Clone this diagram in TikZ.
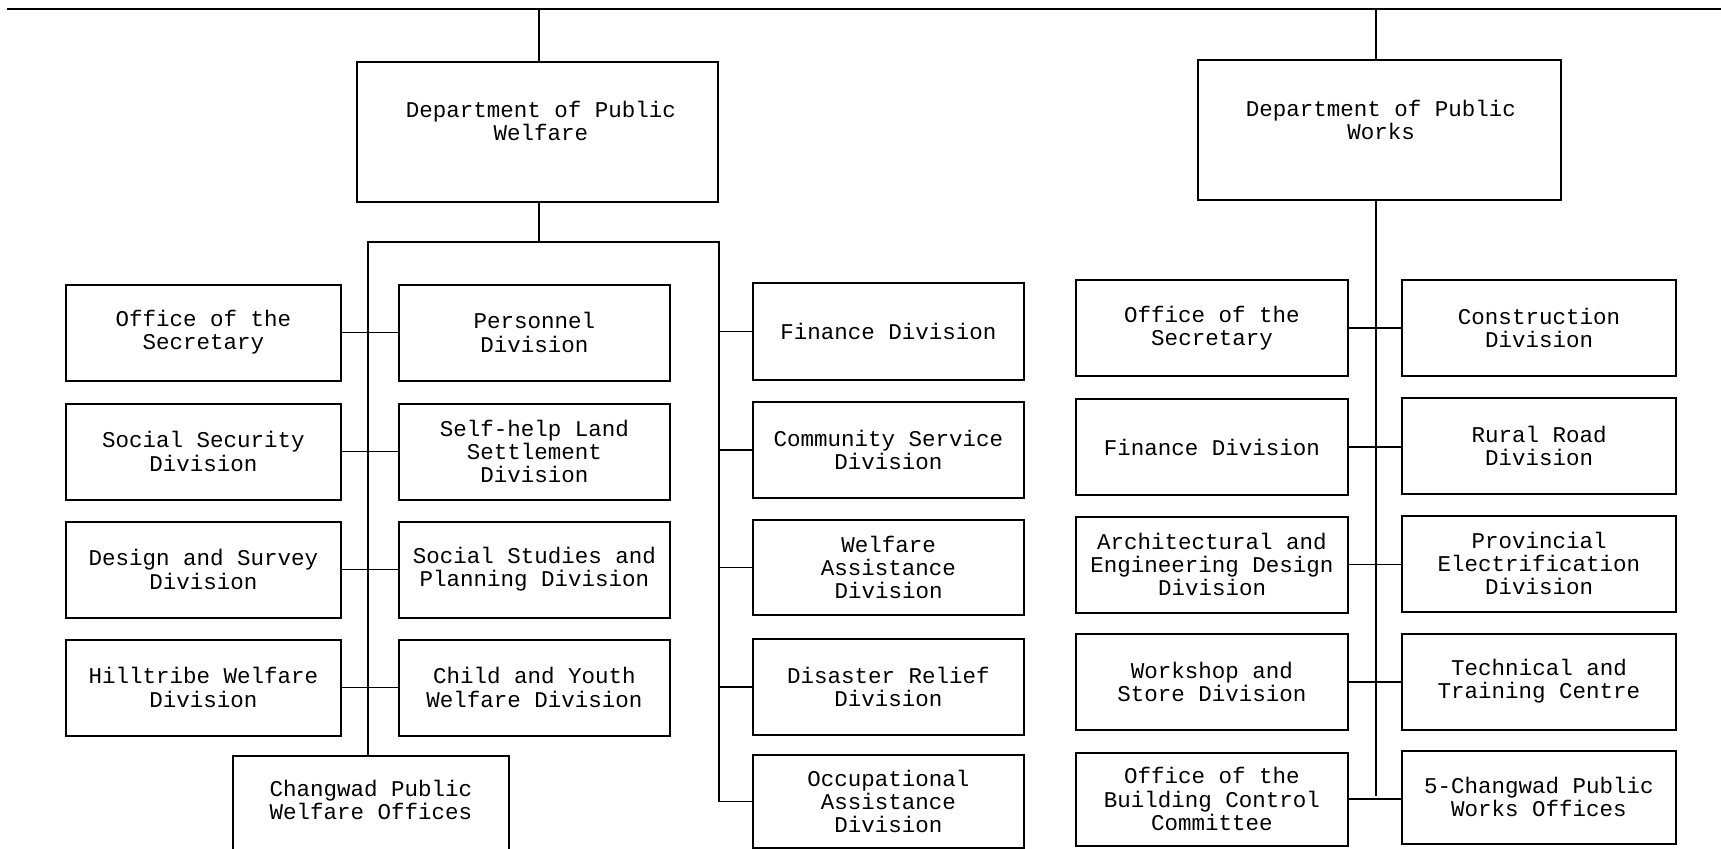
\documentclass[tikz,border=0pt]{standalone}
\usepackage{fontspec}
\setmonofont{Liberation Mono}
\begin{document}
\begin{tikzpicture}[x=0.4pt,y=-0.4pt,
  tt/.style={font=\ttfamily\fontsize{9}{9.3}\selectfont, align=center},
  box/.style={draw, line width=0.8pt, tt, inner sep=0pt},
  sz/.style 2 args={minimum width=#1*0.4pt, minimum height=#2*0.4pt},
  conn/.style={line width=0.6pt}]
\useasboundingbox (0,0) rectangle (1721,848);
\clip (0,0) rectangle (1721,848);

% top line
\coordinate (tl) at (7,9);
\coordinate (tr) at (1721,9);
\draw[conn] (tl) -- (tr);

% ---------- Department of Public Welfare ----------
\node[box, sz={361}{140}] (dpw) at (537.5,132) {};
\node[tt] (dpwt) at (541,121) {Department of Public\\Welfare};

\node[box, sz={275}{96}] (w1L) at (203.5,332.5) {Office of the\\Secretary};
\node[box, sz={275}{96}] (w2L) at (203.5,451.5) {Social Security\\Division};
\node[box, sz={275}{96}] (w3L) at (203.5,569.5) {Design and Survey\\Division};
\node[box, sz={275}{96}] (w4L) at (203.5,687.5) {Hilltribe Welfare\\Division};

\node[box, sz={271}{96}] (w1M) at (534.5,332.5) {Personnel\\Division};
\node[box, sz={271}{96}] (w2M) at (534.5,451.5) {Self-help Land\\Settlement\\Division};
\node[box, sz={271}{96}] (w3M) at (534.5,569.5) {Social Studies and\\Planning Division};
\node[box, sz={271}{96}] (w4M) at (534.5,687.5) {Child and Youth\\Welfare Division};

\node[box, sz={276}{130}] (wch) at (371,821) {};
\node[tt] (wcht) at (371,800) {Changwad Public\\Welfare Offices};

\node[box, sz={271}{97}] (w1R) at (888.5,331.5) {Finance Division};
\node[box, sz={271}{96}] (w2R) at (888.5,450) {Community Service\\Division};
\node[box, sz={271}{95}] (w3R) at (888.5,567.5) {Welfare\\Assistance\\Division};
\node[box, sz={271}{96}] (w4R) at (888.5,687) {Disaster Relief\\Division};
\node[box, sz={271}{93}] (w5R) at (888.5,801.5) {Occupational\\Assistance\\Division};

\coordinate (bl) at (368,242);
\coordinate (br) at (719,242);
\draw[conn] (dpw.north -| 539,0) -- (539,9);
\draw[conn] (dpw.south -| 539,0) -- (539,242);
\draw[conn] (wch.north -| bl) -- (bl) -- (br) -- (br |- w5R.west) -- (w5R.west);
\foreach \r in {1,2,3,4}{
  \draw[conn] (w\r L.east) -- (w\r M.west);
}
\foreach \r in {1,2,3,4}{
  \draw[conn] (w\r R.west) -- (w\r R.west -| br);
}

% ---------- Department of Public Works ----------
\node[box, sz={363}{140}] (dpwk) at (1379.5,130) {};
\node[tt] (dpwkt) at (1381,120) {Department of Public\\Works};

\node[box, sz={272}{96}] (k1L) at (1212,328) {Office of the\\Secretary};
\node[box, sz={272}{96}] (k2L) at (1212,447) {Finance Division};
\node[box, sz={272}{96}] (k3L) at (1212,564.5) {Architectural and\\Engineering Design\\Division};
\node[box, sz={272}{96}] (k4L) at (1212,682) {Workshop and\\Store Division};
\node[box, sz={272}{93}] (k5L) at (1212,799) {Office of the\\Building Control\\Committee};

\node[box, sz={274}{96}] (k1R) at (1539,328) {Construction\\Division};
\node[box, sz={274}{96}] (k2R) at (1539,446) {Rural Road\\Division};
\node[box, sz={274}{96}] (k3R) at (1539,563.5) {Provincial\\Electrification\\Division};
\node[box, sz={274}{96}] (k4R) at (1539,681.5) {Technical and\\Training Centre};
\node[box, sz={274}{93}] (k5R) at (1539,797) {5-Changwad Public\\Works Offices};

\coordinate (kv) at (1376,796);
\draw[conn] (dpwk.north -| kv) -- (kv |- tl);
\draw[conn] (dpwk.south -| kv) -- (kv);
\foreach \r in {1,2,3,4,5}{
  \draw[conn] (k\r L.east) -- (k\r L.east -| k\r R.west);
}
\end{tikzpicture}
\end{document}
